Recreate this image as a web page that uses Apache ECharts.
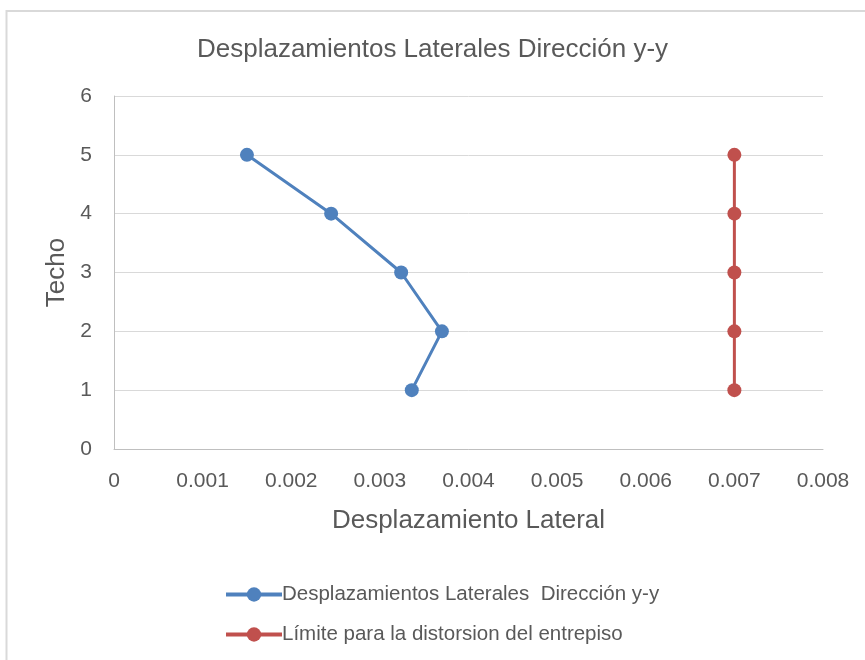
<!DOCTYPE html>
<html><head><meta charset="utf-8">
<script src="https://cdn.jsdelivr.net/npm/echarts@6/dist/echarts.min.js"></script>
<style>html,body{margin:0;padding:0;background:#fff}#c{width:865px;height:660px}</style>
</head><body><div id="c"></div>
<script>
const floors = [1, 2, 3, 4, 5];
const desplazamientos = [0.00336, 0.0037, 0.00324, 0.00245, 0.0015];
const limite = [0.007, 0.007, 0.007, 0.007, 0.007];
const seriesNames = ['Desplazamientos Laterales  Dirección y-y', 'Límite para la distorsion del entrepiso'];

const chart = echarts.init(document.getElementById('c'), null, {renderer: 'canvas'});
const font = 'Liberation Sans, Arial, sans-serif';
chart.setOption({
  animation: false,
  backgroundColor: '#fff',
  graphic: [{type: 'rect', shape: {x: 6.5, y: 11, width: 880, height: 680}, style: {fill: 'none', stroke: '#d9d9d9', lineWidth: 2}, silent: true}],
  title: {text: 'Desplazamientos Laterales Dirección y-y', left: 'center', top: 32,
    textStyle: {fontFamily: font, fontSize: 26, fontWeight: 'normal', color: '#595959'}},
  grid: {left: 114, right: 42, top: 96, bottom: 211},
  xAxis: {type: 'value', min: 0, max: 0.008, interval: 0.001,
    name: 'Desplazamiento Lateral', nameLocation: 'middle', nameGap: 59,
    nameTextStyle: {fontFamily: font, fontSize: 26, color: '#595959'},
    axisLine: {show: true, lineStyle: {color: '#bfbfbf'}}, axisTick: {show: false},
    axisLabel: {fontFamily: font, fontSize: 21, color: '#595959', margin: 22, formatter: v => String(+v.toFixed(3))},
    splitLine: {show: false}},
  yAxis: {type: 'value', min: 0, max: 6, interval: 1,
    name: 'Techo', nameLocation: 'middle', nameGap: 35, nameRotate: 90,
    nameTextStyle: {fontFamily: font, fontSize: 26, color: '#595959'},
    axisLine: {show: true, lineStyle: {color: '#bfbfbf'}}, axisTick: {show: false},
    axisLabel: {fontFamily: font, fontSize: 21, color: '#595959', margin: 22},
    splitLine: {show: true, lineStyle: {color: '#d9d9d9', width: 1}}},
  legend: {orient: 'vertical', left: 219, top: 579, itemGap: 19, itemWidth: 56, itemHeight: 18,
    lineStyle: {width: 4},
    textStyle: {fontFamily: font, fontSize: 20.5, color: '#595959', padding: [0,0,0,-5]},
    data: seriesNames},
  series: [
    {name: seriesNames[0], type: 'line', data: floors.map((f, i) => [desplazamientos[i], f]),
      symbol: 'circle', symbolSize: 14, lineStyle: {color: '#4f81bd', width: 3}, itemStyle: {color: '#4f81bd'}},
    {name: seriesNames[1], type: 'line', data: floors.map((f, i) => [limite[i], f]),
      symbol: 'circle', symbolSize: 14, lineStyle: {color: '#c0504d', width: 3}, itemStyle: {color: '#c0504d'}}
  ]
});
</script></body></html>
